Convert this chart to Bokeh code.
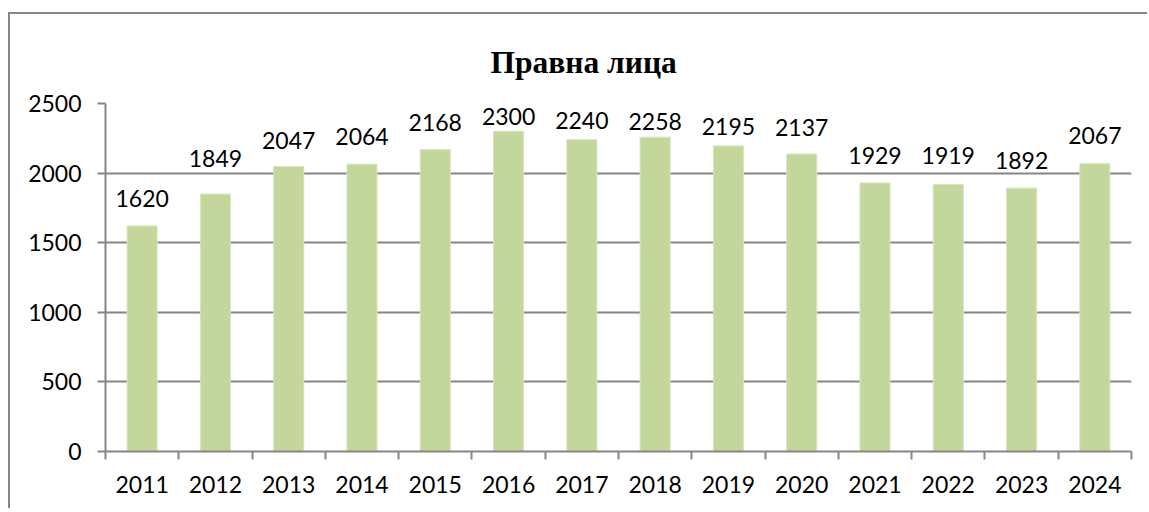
from bokeh.plotting import figure
from bokeh.models import ColumnDataSource, LabelSet, Range1d, FixedTicker
from bokeh.core.properties import value
from bokeh.embed import file_html
from bokeh.resources import INLINE

# ---- data ----
years = ["2011", "2012", "2013", "2014", "2015", "2016", "2017",
         "2018", "2019", "2020", "2021", "2022", "2023", "2024"]
counts = [1620, 1849, 2047, 2064, 2168, 2300, 2240,
          2258, 2195, 2137, 1929, 1919, 1892, 2067]
title_text = "Правна лица"
y_ticks = [0, 500, 1000, 1500, 2000, 2500]

# ---- style ----
label_gap_px = [19, 27, 18, 19, 19, 6, 11, 7, 11, 18, 19, 20, 19, 20]
BAR = "#C3D69B"
GRID = "#868686"
FONT = "Lato"
FS = "23px"

pos = list(range(1, len(years) + 1))
src = ColumnDataSource(dict(x=pos, top=counts, lab=[str(c) for c in counts],
                            gap=label_gap_px))

p = figure(width=1139, height=496, output_backend="svg", toolbar_location=None,
           x_range=Range1d(0.5, len(years) + 0.5), y_range=Range1d(0, 2500),
           min_border_left=95, min_border_right=18, min_border_top=89,
           min_border_bottom=59, title=title_text)
p.styles = {"border-left": f"2px solid {GRID}", "border-top": f"2px solid {GRID}",
            "margin-top": "12px", "margin-left": "8px"}
p.outline_line_color = None
p.background_fill_color = "white"
p.border_fill_color = "white"

p.title.align = "left"
p.title.offset = 385
p.title.standoff = 48
p.title.text_font = "Liberation Serif"
p.title.text_font_style = "bold"
p.title.text_font_size = "31.5px"
p.title.text_color = "black"

p.vbar(x="x", top="top", width=0.41, bottom=0, source=src,
       fill_color=BAR, line_color="#D7E4BD", line_width=1)

# x axis: labels at centres, ticks at boundaries
xa = p.xaxis[0]
xa.ticker = FixedTicker(ticks=pos, minor_ticks=[i + 0.5 for i in range(0, len(years) + 1)])
xa.major_label_overrides = {i: y for i, y in zip(pos, years)}
xa.major_tick_out = 0
xa.major_tick_in = 0
xa.minor_tick_out = 8
xa.minor_tick_in = 0
xa.minor_tick_line_color = GRID
xa.minor_tick_line_width = 2
xa.axis_line_color = GRID
xa.axis_line_width = 2
xa.major_label_text_font = FONT
xa.major_label_text_font_size = FS
xa.major_label_text_color = "black"
xa.major_label_standoff = 16

ya = p.yaxis[0]
ya.ticker = FixedTicker(ticks=y_ticks)
ya.major_tick_out = 8
ya.major_tick_in = 0
ya.minor_tick_out = 0
ya.minor_tick_in = 0
ya.major_tick_line_color = GRID
ya.major_tick_line_width = 2
ya.axis_line_color = GRID
ya.axis_line_width = 2
ya.major_label_text_font = FONT
ya.major_label_text_font_size = FS
ya.major_label_text_color = "black"
ya.major_label_standoff = 16

p.xgrid.grid_line_color = None
p.ygrid.grid_line_color = GRID
p.ygrid.grid_line_width = 2
p.ygrid.ticker = FixedTicker(ticks=y_ticks)

labels = LabelSet(x="x", y="top", text="lab", y_offset="gap", source=src,
                  text_align="center", text_baseline="alphabetic",
                  text_font=value(FONT), text_font_size=value(FS), text_color="black")
p.add_layout(labels)

open("out.html", "w").write(file_html(p, INLINE))
